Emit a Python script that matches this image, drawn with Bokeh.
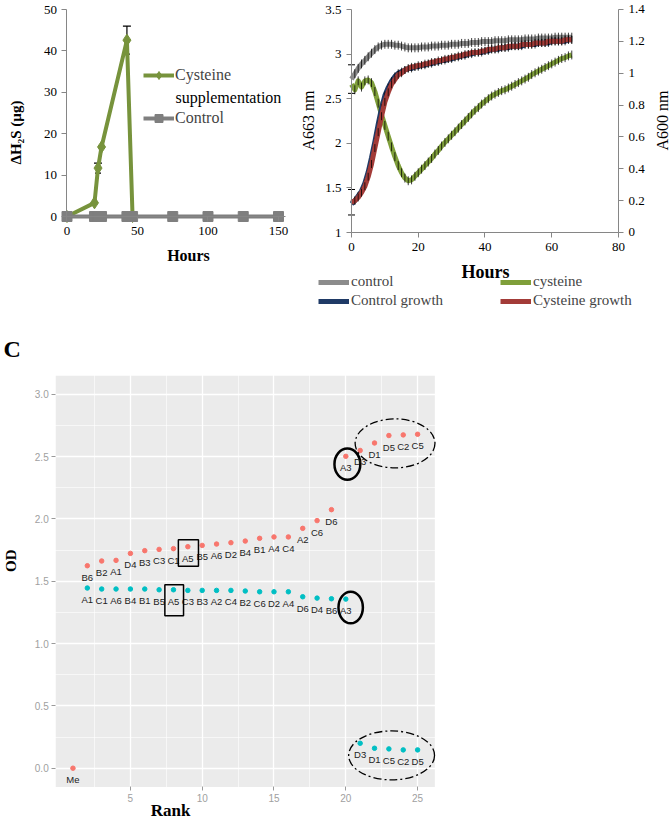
from bokeh.plotting import figure
from bokeh.models import (Range1d, LinearAxis, FixedTicker, Legend, LegendItem, Label, Grid,
                          LabelSet, ColumnDataSource, Whisker, TeeHead, BoxAnnotation)
from bokeh.layouts import row, column
from bokeh.embed import file_html
from bokeh.resources import INLINE
from bokeh.core.properties import value

SERIF = "Liberation Serif"
SANS = "Liberation Sans"
AXC = "#868686"

# ---------------- Panel A data ----------------
a_cys_hours = [0, 19.5, 22, 24.5, 42.5, 46.5]
a_cys_h2s = [0, 3.3, 11.7, 16.8, 42.6, 0]
a_cys_err = [0, 0, 1.2, 0, 3.4, 0]
a_ctrl_hours = [0, 19.5, 22, 24.5, 42.5, 46.5, 75, 100, 125, 150]
a_ctrl_h2s = [0, 0, 0, 0, 0, 0, 0, 0, 0, 0]
a_xticks = [0, 50, 100, 150]
a_yticks = [0, 10, 20, 30, 40, 50]

# ---------------- Panel B data ----------------
b_hours = list(range(0, 67))
b_ctrl = [2.72, 2.78, 2.84, 2.89, 2.93, 2.97, 3.01, 3.05, 3.08, 3.10,
          3.11, 3.11, 3.11, 3.10, 3.10, 3.09, 3.08, 3.07, 3.07, 3.07,
          3.07, 3.08, 3.08, 3.08, 3.09, 3.09, 3.09, 3.10, 3.10, 3.10,
          3.11, 3.11, 3.11, 3.12, 3.12, 3.12, 3.13, 3.13, 3.13, 3.14,
          3.14, 3.14, 3.14, 3.15, 3.15, 3.15, 3.15, 3.16, 3.16, 3.16,
          3.16, 3.16, 3.17, 3.17, 3.17, 3.17, 3.18, 3.18, 3.18, 3.18,
          3.18, 3.19, 3.19, 3.19, 3.19, 3.19, 3.19]
b_cys = [2.66, 2.60, 2.70, 2.63, 2.70, 2.71, 2.68, 2.58, 2.45, 2.32,
         2.20, 2.08, 1.96, 1.85, 1.75, 1.67, 1.61, 1.58, 1.59, 1.63,
         1.67, 1.71, 1.75, 1.79, 1.83, 1.88, 1.92, 1.97, 2.01, 2.05,
         2.09, 2.13, 2.17, 2.21, 2.25, 2.29, 2.33, 2.37, 2.40, 2.44,
         2.47, 2.50, 2.53, 2.55, 2.57, 2.59, 2.60, 2.62, 2.64, 2.66,
         2.68, 2.70, 2.72, 2.74, 2.77, 2.79, 2.81, 2.83, 2.85, 2.87,
         2.89, 2.91, 2.93, 2.95, 2.96, 2.98, 2.99]
b_ctrl_growth = [0.18, 0.20, 0.23, 0.26, 0.31, 0.38, 0.47, 0.57, 0.68, 0.78,
                 0.86, 0.91, 0.95, 0.98, 1.00, 1.01, 1.02, 1.03, 1.03, 1.04,
                 1.04, 1.05, 1.05, 1.06, 1.06, 1.07, 1.07, 1.08, 1.08, 1.09,
                 1.09, 1.10, 1.10, 1.11, 1.11, 1.12, 1.12, 1.13, 1.13, 1.13,
                 1.14, 1.14, 1.15, 1.15, 1.15, 1.16, 1.16, 1.16, 1.17, 1.17,
                 1.17, 1.17, 1.18, 1.18, 1.18, 1.18, 1.19, 1.19, 1.19, 1.19,
                 1.20, 1.20, 1.20, 1.20, 1.20, 1.21, 1.21]
b_cys_growth = [0.19, 0.20, 0.22, 0.25, 0.29, 0.35, 0.43, 0.53, 0.63, 0.73,
                0.82, 0.88, 0.93, 0.96, 0.99, 1.00, 1.02, 1.03, 1.04, 1.04,
                1.05, 1.05, 1.06, 1.06, 1.07, 1.07, 1.08, 1.08, 1.09, 1.09,
                1.10, 1.10, 1.11, 1.11, 1.12, 1.12, 1.13, 1.13, 1.13, 1.14,
                1.14, 1.15, 1.15, 1.15, 1.16, 1.16, 1.16, 1.17, 1.17, 1.17,
                1.17, 1.18, 1.18, 1.18, 1.18, 1.19, 1.19, 1.19, 1.19, 1.20,
                1.20, 1.20, 1.20, 1.20, 1.21, 1.21, 1.21]
b_err_a663 = 0.05
b_err_a600 = 0.025
b_t0_err_ctrl = 0.16
b_t0_err_growth = 0.08
b_xticks = [0, 20, 40, 60, 80]
b_yticks = [1, 1.5, 2, 2.5, 3, 3.5]
b_yticks_r = [0, 0.2, 0.4, 0.6, 0.8, 1.0, 1.2, 1.4]

# ---------------- Panel C data ----------------
c_red_rank = [1, 2, 3, 4, 5, 6, 7, 8, 9, 10, 11, 12, 13, 14, 15, 16, 17, 18, 19, 20, 21, 22, 23, 24, 25]
c_red_od = [0.00, 1.625, 1.663, 1.668, 1.724, 1.746, 1.756, 1.762, 1.778, 1.788, 1.799, 1.810, 1.823,
            1.845, 1.856, 1.856, 1.925, 1.987, 2.075, 2.503, 2.550, 2.610, 2.670, 2.675, 2.680]
c_red_lab = ["Me", "B6", "B2", "A1", "D4", "B3", "C3", "C1", "A5", "B5", "A6", "D2", "B4",
             "B1", "A4", "C4", "A2", "C6", "D6", "A3", "D3", "D1", "D5", "C2", "C5"]
c_cyan_rank = [2, 3, 4, 5, 6, 7, 8, 9, 10, 11, 12, 13, 14, 15, 16, 17, 18, 19, 20, 21, 22, 23, 24, 25]
c_cyan_od = [1.446, 1.438, 1.438, 1.438, 1.438, 1.432, 1.432, 1.427, 1.427, 1.427, 1.427, 1.422,
             1.416, 1.416, 1.416, 1.376, 1.365, 1.360, 1.357, 0.200, 0.160, 0.155, 0.147, 0.147]
c_cyan_lab = ["A1", "C1", "A6", "B4", "B1", "B5", "A5", "C3", "B3", "A2", "C4", "B2",
              "C6", "D2", "A4", "D6", "D4", "B6", "A3", "D3", "D1", "C5", "C2", "D5"]
c_xticks = [5, 10, 15, 20, 25]
c_xminor = [2.5, 7.5, 12.5, 17.5, 22.5]
c_yticks = [0, 0.5, 1.0, 1.5, 2.0, 2.5, 3.0]
c_yminor = [0.25, 0.75, 1.25, 1.75, 2.25, 2.75]


def lab(p, x, y, text, size, bold=False, angle=0.0, align="center", font=SERIF,
        color="black"):
    p.add_layout(Label(x=x, y=y, text=text, text_font=font, text_font_size=f"{size}px",
                       text_font_style="bold" if bold else "normal", angle=angle,
                       text_align=align, text_baseline="middle", text_color=color))


def excel_axis(ax, ticks, overrides=None):
    ax.ticker = FixedTicker(ticks=ticks)
    ax.axis_line_color = AXC
    ax.major_tick_line_color = AXC
    ax.major_tick_out = 5
    ax.major_tick_in = 0
    ax.minor_tick_line_color = None
    ax.major_label_text_font = SERIF
    ax.major_label_text_font_size = "13px"
    ax.major_label_text_color = "black"
    ax.major_label_standoff = 5
    if overrides:
        ax.major_label_overrides = overrides


def bare_fig(w, h, xr, yr):
    p = figure(width=w, height=h, x_range=Range1d(*xr), y_range=Range1d(*yr),
               x_axis_location=None, y_axis_location=None,
               output_backend="svg", toolbar_location=None,
               min_border_left=0, min_border_right=0, min_border_top=0, min_border_bottom=0)
    p.outline_line_color = None
    p.grid.visible = False
    return p


# ================= Panel A (frame = whole canvas) =================
# screen mapping: x px = 66.5 + 1.41*h ; y px = 216 - 4.14*v  (canvas 300 x 310)
pa = bare_fig(300, 310, (-47.163, 165.603), (-22.705, 52.174))
ax_ax = LinearAxis(fixed_location=0, bounds=(0, 155))
ay_ax = LinearAxis(fixed_location=0, bounds=(0, 50))
excel_axis(ax_ax, a_xticks)
excel_axis(ay_ax, a_yticks)
pa.add_layout(ax_ax, "below")
pa.add_layout(ay_ax, "left")

GREEN = "#77933C"
GREY = "#7F7F7F"
cys_line = pa.line(a_cys_hours, a_cys_h2s, line_color=GREEN, line_width=4)
cys_pts = pa.scatter(a_cys_hours, a_cys_h2s, marker="diamond", size=12,
                     fill_color=GREEN, line_color=GREEN)
err_src = ColumnDataSource(dict(
    x=[h for h, e in zip(a_cys_hours, a_cys_err) if e > 0],
    up=[v + e for v, e in zip(a_cys_h2s, a_cys_err) if e > 0],
    lo=[v - e for v, e in zip(a_cys_h2s, a_cys_err) if e > 0]))
pa.add_layout(Whisker(source=err_src, base="x", upper="up", lower="lo", line_color="black",
                      line_width=1.2,
                      upper_head=TeeHead(size=8, line_color="black", line_width=1.2),
                      lower_head=TeeHead(size=6, line_color="black", line_width=1.2)))
ctrl_line = pa.line(a_ctrl_hours, a_ctrl_h2s, line_color=GREY, line_width=4)
ctrl_pts = pa.scatter(a_ctrl_hours, a_ctrl_h2s, marker="square", size=10,
                      fill_color=GREY, line_color=GREY)

leg_a = Legend(items=[LegendItem(label="Cysteine", renderers=[cys_line, cys_pts]),
                      LegendItem(label="Control", renderers=[ctrl_line, ctrl_pts])],
               location=(143, 182), padding=0, margin=0, spacing=23,
               glyph_width=31, glyph_height=20, label_height=20, label_standoff=1,
               border_line_color=None, background_fill_alpha=0,
               label_text_font=SERIF, label_text_font_size="16px")
pa.add_layout(leg_a)
lab(pa, 77.0, 28.7, "supplementation", 16, align="left")
lab(pa, -36.5, 20.29, "ΔH₂S (µg)", 15, bold=True, angle=1.5708)
lab(pa, 86.17, -9.42, "Hours", 16, bold=True)

# ================= Panel B (frame = whole canvas) =================
# x px = 51 + 3.3375*h ; y px = 232 - 89.2*(v-1)   (canvas 370 x 310)
pb = bare_fig(370, 310, (-15.281, 95.581), (0.12556, 3.60090))
pb.extra_y_ranges = {"a600": Range1d(-0.48969, 1.45650)}
bx_ax = LinearAxis(fixed_location=1, bounds=(0, 80))
by_ax = LinearAxis(fixed_location=0, bounds=(1, 3.5))
byr_ax = LinearAxis(fixed_location=80, bounds=(0, 1.4), y_range_name="a600")
excel_axis(bx_ax, b_xticks)
excel_axis(by_ax, b_yticks, {1: "1", 1.5: "1.5", 2: "2", 2.5: "2.5", 3: "3", 3.5: "3.5"})
excel_axis(byr_ax, b_yticks_r, {0: "0", 0.2: "0.2", 0.4: "0.4", 0.6: "0.6", 0.8: "0.8",
                                1.0: "1", 1.2: "1.2", 1.4: "1.4"})
pb.add_layout(bx_ax, "below")
pb.add_layout(by_ax, "left")
pb.add_layout(byr_ax, "right")

NAVY = "#1F3A66"
RED = "#A33B38"


def series(vals, color, err, rname="default"):
    r = pb.line(b_hours, vals, line_color=color, line_width=5, line_join="round",
                y_range_name=rname)
    pb.segment(x0=b_hours, x1=b_hours, y0=[v - err for v in vals], y1=[v + err for v in vals],
               line_color="black", line_width=0.9, line_alpha=0.85, y_range_name=rname)
    return r


r_ctrl = series(b_ctrl, "#8C8C8C", b_err_a663)
r_cys = series(b_cys, "#7F9F3A", b_err_a663)
r_cg = series(b_ctrl_growth, NAVY, b_err_a600, "a600")
r_yg = series(b_cys_growth, RED, b_err_a600, "a600")

t0_a = ColumnDataSource(dict(x=[b_hours[0]], up=[b_ctrl[0] + b_t0_err_ctrl],
                             lo=[b_ctrl[0] - b_t0_err_ctrl]))
pb.add_layout(Whisker(source=t0_a, base="x", upper="up", lower="lo", line_color="black",
                      upper_head=TeeHead(size=7, line_color="black"),
                      lower_head=TeeHead(size=7, line_color="black")))
t0_b = ColumnDataSource(dict(x=[b_hours[0]], up=[b_cys_growth[0] + b_t0_err_growth],
                             lo=[b_cys_growth[0] - b_t0_err_growth]))
pb.add_layout(Whisker(source=t0_b, base="x", upper="up", lower="lo", line_color="black",
                      y_range_name="a600",
                      upper_head=TeeHead(size=7, line_color="black"),
                      lower_head=TeeHead(size=7, line_color="black")))

leg_kw = dict(padding=0, margin=0, spacing=2, glyph_width=31, glyph_height=16, label_height=16,
              label_standoff=2, border_line_color=None, background_fill_alpha=0,
              label_text_font=SERIF, label_text_font_size="15px")
pb.add_layout(Legend(items=[LegendItem(label="control", renderers=[r_ctrl]),
                            LegendItem(label="Control growth", renderers=[r_cg])],
                     location=(18, 1), **leg_kw))
pb.add_layout(Legend(items=[LegendItem(label="cysteine", renderers=[r_cys]),
                            LegendItem(label="Cysteine growth", renderers=[r_yg])],
                     location=(200, 1), **leg_kw))
lab(pb, -12.88, 2.2556, "A663 nm", 16, angle=1.5708)
lab(pb, 93.3, 2.2556, "A600 nm", 16, angle=1.5708)
lab(pb, 40.15, 0.5516, "Hours", 18, bold=True)

# ================= Panel C (frame = whole canvas) =================
# x px = 58.1 + 14.36*rank ; y px = 457.7 - 124.6*OD   (canvas 460 x 510)
pc = bare_fig(460, 510, (-4.04596, 27.98747), (-0.41974, 3.67335))
pc.add_layout(BoxAnnotation(left=-0.2, right=26.2, bottom=-0.15, top=3.15,
                            fill_color="#EBEBEB", fill_alpha=1, line_color=None, level="image"))
gx = Grid(dimension=0, ticker=FixedTicker(ticks=c_xticks, minor_ticks=c_xminor),
          grid_line_color="white", grid_line_width=1.3,
          minor_grid_line_color="white", minor_grid_line_width=0.6)
gy = Grid(dimension=1, ticker=FixedTicker(ticks=c_yticks, minor_ticks=c_yminor),
          grid_line_color="white", grid_line_width=1.3,
          minor_grid_line_color="white", minor_grid_line_width=0.6)
pc.add_layout(gx)
pc.add_layout(gy)
cx_ax = LinearAxis(fixed_location=-0.15, ticker=FixedTicker(ticks=c_xticks))
cy_ax = LinearAxis(fixed_location=-0.2, ticker=FixedTicker(ticks=c_yticks))
cy_ax.major_label_overrides = {0: "0.0", 0.5: "0.5", 1.0: "1.0", 1.5: "1.5", 2.0: "2.0",
                               2.5: "2.5", 3.0: "3.0"}
for ax in (cx_ax, cy_ax):
    ax.axis_line_color = None
    ax.major_tick_line_color = "#9A9A9A"
    ax.major_tick_out = 4
    ax.major_tick_in = 0
    ax.minor_tick_line_color = None
    ax.major_label_text_font = SANS
    ax.major_label_text_font_size = "10px"
    ax.major_label_text_color = "#A0A0A0"
    ax.major_label_standoff = 3
pc.add_layout(cx_ax, "below")
pc.add_layout(cy_ax, "left")

RED_C = "#F8766D"
CYAN_C = "#00BFC4"
src_red = ColumnDataSource(dict(x=c_red_rank, y=c_red_od, t=c_red_lab))
src_cyan = ColumnDataSource(dict(x=c_cyan_rank, y=c_cyan_od, t=c_cyan_lab))
pc.scatter("x", "y", source=src_red, size=4.5, fill_color=RED_C, line_color=RED_C)
pc.scatter("x", "y", source=src_cyan, size=4.5, fill_color=CYAN_C, line_color=CYAN_C)
for s in (src_red, src_cyan):
    pc.add_layout(LabelSet(x="x", y="y", text="t", source=s, y_offset=-11.5,
                           text_align="center", text_baseline="middle",
                           text_font=value(SANS), text_font_size="9.5px", text_color="#222222"))

# highlight boxes around the A5 wells (placed relative to their points)
ir = c_red_lab.index("A5")
ic = c_cyan_lab.index("A5")
pc.add_layout(BoxAnnotation(left=c_red_rank[ir] - 0.66, right=c_red_rank[ir] + 0.74,
                            bottom=c_red_od[ir] - 0.158, top=c_red_od[ir] + 0.056,
                            fill_alpha=0, line_color="black", line_alpha=1, line_width=1.5))
pc.add_layout(BoxAnnotation(left=c_cyan_rank[ic] - 0.6, right=c_cyan_rank[ic] + 0.7,
                            bottom=c_cyan_od[ic] - 0.208, top=c_cyan_od[ic] + 0.041,
                            fill_alpha=0, line_color="black", line_alpha=1, line_width=1.5))
# circles around A3
jr = c_red_lab.index("A3")
jc = c_cyan_lab.index("A3")
pc.ellipse(x=[c_red_rank[jr] + 0.11, c_cyan_rank[jc] + 0.34],
           y=[c_red_od[jr] - 0.063, c_cyan_od[jc] - 0.067],
           width=[1.8, 1.7], height=[0.25, 0.254],
           fill_color=None, line_color="black", line_width=2.5)
# dashed groups (last five ranks)
top5 = slice(20, 25)
bot5 = slice(19, 24)
pc.ellipse(x=[sum(c_red_rank[top5]) / 5 + 0.43, sum(c_cyan_rank[bot5]) / 5 + 0.19],
           y=[sum(c_red_od[top5]) / 5 - 0.03, sum(c_cyan_od[bot5]) / 5 - 0.059],
           width=[5.56, 5.98], height=[0.393, 0.393],
           fill_color=None, line_color="black", line_width=1.3, line_dash="8 3 2 3")

lab(pc, -3.837, 3.3604, "C", 24, bold=True, align="left")
lab(pc, -3.28, 1.6653, "OD", 15, bold=True, angle=1.5708)
lab(pc, 7.80, -0.336, "Rank", 17, bold=True)

layout = column(row(pa, pb), pc)
open("out.html", "w").write(file_html(layout, INLINE))
